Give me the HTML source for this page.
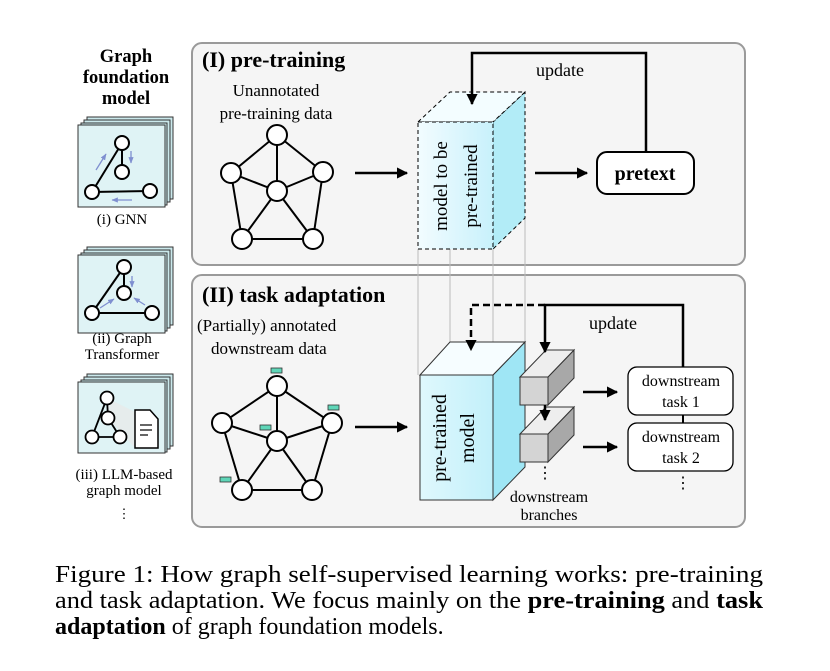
<!DOCTYPE html>
<html><head><meta charset="utf-8"><style>
html,body{margin:0;padding:0;background:#fff;}
svg{display:block;font-family:"Liberation Serif",serif;}
</style></head><body>
<svg width="830" height="671" viewBox="0 0 830 671" xmlns="http://www.w3.org/2000/svg">
<defs>
<marker id="ah" viewBox="0 0 10 10" refX="9" refY="5" markerWidth="4.5" markerHeight="4.5" orient="auto"><path d="M0,0 L10,5 L0,10 z" fill="#000"/></marker>
<marker id="sa" viewBox="0 0 10 10" refX="9" refY="5" markerWidth="5" markerHeight="5" orient="auto"><path d="M0,1 L10,5 L0,9 z" fill="#7f8fd0"/></marker>
<linearGradient id="cy" x1="0" x2="1" y1="0" y2="0"><stop offset="0" stop-color="#f2fcff"/><stop offset="1" stop-color="#c8f1fb"/></linearGradient>
<linearGradient id="cy2" x1="0" x2="1" y1="0" y2="0"><stop offset="0" stop-color="#dff8fd"/><stop offset="1" stop-color="#c2f0fa"/></linearGradient>
</defs>
<rect width="830" height="671" fill="#fff"/>

<rect x="192" y="43" width="553" height="222" rx="10" fill="#f5f5f5" stroke="#9a9a9a" stroke-width="2"/>
<rect x="192" y="275" width="553" height="252" rx="10" fill="#f5f5f5" stroke="#9a9a9a" stroke-width="2"/>

<g font-weight="bold" font-size="18.5" text-anchor="middle">
<text x="126" y="62">Graph</text><text x="126" y="83">foundation</text><text x="126" y="104">model</text>
</g>
<g stroke="#333" stroke-width="1" fill="#cbe9ec">
<rect x="87" y="117" width="86" height="82"/><rect x="84" y="120" width="86" height="82"/><rect x="81" y="123" width="86" height="82"/>
<rect x="78" y="125" width="87" height="82" fill="#dff3f5"/>
<rect x="87" y="247" width="86" height="78"/><rect x="84" y="250" width="86" height="78"/><rect x="81" y="253" width="86" height="78"/>
<rect x="78" y="255" width="87" height="78" fill="#dff3f5"/>
<rect x="87" y="374" width="86" height="72"/><rect x="84" y="377" width="86" height="72"/><rect x="81" y="380" width="86" height="72"/>
<rect x="78" y="382" width="87" height="71" fill="#dff3f5"/>
</g>
<g stroke="#000" stroke-width="2" fill="#fff">
<line x1="122" y1="143" x2="92" y2="192"/><line x1="122" y1="143" x2="122" y2="172"/><line x1="92" y1="192" x2="150" y2="191"/>
<circle cx="122" cy="143" r="7"/><circle cx="122" cy="172" r="7"/><circle cx="92" cy="192" r="7"/><circle cx="150" cy="191" r="7"/>
</g>
<g stroke="#7f8fd0" stroke-width="1.3" marker-end="url(#sa)">
<line x1="96" y1="170" x2="106" y2="154"/><line x1="131" y1="151" x2="131" y2="163"/><line x1="132" y1="200" x2="112" y2="200"/>
</g>
<text x="122" y="224" font-size="15" text-anchor="middle">(i) GNN</text>
<g stroke="#000" stroke-width="2" fill="#fff">
<line x1="124" y1="267" x2="92" y2="313"/><line x1="124" y1="267" x2="124" y2="293"/><line x1="92" y1="313" x2="152" y2="313"/>
<circle cx="124" cy="267" r="7"/><circle cx="124" cy="293" r="7"/><circle cx="92" cy="313" r="7"/><circle cx="152" cy="313" r="7"/>
</g>
<g stroke="#7f8fd0" stroke-width="1.3" marker-end="url(#sa)">
<line x1="132" y1="276" x2="132" y2="287"/><line x1="100" y1="308" x2="114" y2="299"/><line x1="145" y1="305" x2="134" y2="298"/>
</g>
<text x="122" y="343" font-size="15" text-anchor="middle">(ii) Graph</text>
<text x="122" y="359" font-size="15" text-anchor="middle">Transformer</text>
<polygon points="107,398 135,412 135,448 108,418" fill="#e8e8e8" opacity="0.7"/>
<g stroke="#000" stroke-width="1.8" fill="#fff">
<line x1="107" y1="398" x2="92" y2="437"/><line x1="107" y1="398" x2="108" y2="418"/><line x1="92" y1="437" x2="120" y2="437"/><line x1="108" y1="418" x2="120" y2="437"/>
<circle cx="107" cy="398" r="6.5"/><circle cx="108" cy="418" r="6.5"/><circle cx="92" cy="437" r="6.5"/><circle cx="120" cy="437" r="6.5"/>
<path d="M135,410 h15 l8,9 v29 h-23 z" stroke-width="1.5"/>
</g>
<g stroke="#000" stroke-width="1.2"><line x1="140" y1="425" x2="152" y2="425"/><line x1="140" y1="430" x2="152" y2="430"/><line x1="140" y1="435" x2="148" y2="435"/></g>
<text x="124" y="479" font-size="15" text-anchor="middle">(iii) LLM-based</text>
<text x="124" y="495" font-size="15" text-anchor="middle">graph model</text>
<text x="124" y="518" font-size="13" text-anchor="middle">⋮</text>

<text x="202" y="67" font-size="22" font-weight="bold">(I) pre-training</text>
<text x="276" y="96" font-size="17" text-anchor="middle">Unannotated</text>
<text x="276" y="119" font-size="17" text-anchor="middle">pre-training data</text>
<g stroke="#000" stroke-width="2" fill="#fff">
<polygon points="277,135 323,172 313,239 242,239 231,173" fill="none"/>
<line x1="277" y1="135" x2="277" y2="191"/><line x1="231" y1="173" x2="277" y2="191"/><line x1="323" y1="172" x2="277" y2="191"/><line x1="242" y1="239" x2="277" y2="191"/><line x1="313" y1="239" x2="277" y2="191"/>
<circle cx="277" cy="135" r="10"/><circle cx="231" cy="173" r="10"/><circle cx="323" cy="172" r="10"/><circle cx="277" cy="191" r="10"/><circle cx="242" cy="239" r="10"/><circle cx="313" cy="239" r="10"/>
</g>
<line x1="355" y1="173" x2="407" y2="173" stroke="#000" stroke-width="2.5" marker-end="url(#ah)"/>
<g stroke="#bbb" stroke-width="1"><line x1="418" y1="249" x2="418" y2="375"/><line x1="450" y1="249" x2="450" y2="342"/><line x1="493" y1="249" x2="493" y2="375"/><line x1="525" y1="218" x2="525" y2="342"/></g>
<polygon points="493,122 525,92 525,218 493,249" fill="#b2ecf7" stroke="#000" stroke-width="1" stroke-dasharray="4,3"/>
<polygon points="418,122 450,92 525,92 493,122" fill="#f3fdff" stroke="#000" stroke-width="1" stroke-dasharray="4,3"/>
<rect x="418" y="122" width="75" height="127" fill="url(#cy)" stroke="#000" stroke-width="1" stroke-dasharray="4,3"/>
<text transform="translate(447,186) rotate(-90)" font-size="19" text-anchor="middle">model to be</text>
<text transform="translate(477,186) rotate(-90)" font-size="19" text-anchor="middle">pre-trained</text>
<polyline points="646,152 646,53 472,53 472,104" fill="none" stroke="#000" stroke-width="2.5" marker-end="url(#ah)"/>
<text x="560" y="76" font-size="18" text-anchor="middle">update</text>
<line x1="535" y1="173" x2="587" y2="173" stroke="#000" stroke-width="2.5" marker-end="url(#ah)"/>
<rect x="597" y="152" width="97" height="42" rx="10" fill="#fff" stroke="#000" stroke-width="2"/>
<text x="645" y="180" font-size="20" font-weight="bold" text-anchor="middle">pretext</text>

<text x="202" y="302" font-size="22" font-weight="bold">(II) task adaptation</text>
<text x="197" y="331" font-size="17">(Partially) annotated</text>
<text x="211" y="354" font-size="17">downstream data</text>
<g stroke="#000" stroke-width="2" fill="#fff">
<polygon points="277,386 332,423 312,490 242,490 222,423" fill="none"/>
<line x1="277" y1="386" x2="277" y2="441"/><line x1="222" y1="423" x2="277" y2="441"/><line x1="332" y1="423" x2="277" y2="441"/><line x1="242" y1="490" x2="277" y2="441"/><line x1="312" y1="490" x2="277" y2="441"/>
<circle cx="277" cy="386" r="10"/><circle cx="222" cy="423" r="10"/><circle cx="332" cy="423" r="10"/><circle cx="277" cy="441" r="10"/><circle cx="242" cy="490" r="10"/><circle cx="312" cy="490" r="10"/>
</g>
<g fill="#5fd6b8" stroke="#333" stroke-width="0.8">
<rect x="271" y="368" width="11" height="5"/><rect x="328" y="405" width="11" height="5"/><rect x="260" y="425" width="11" height="5"/><rect x="220" y="477" width="11" height="5"/>
</g>
<line x1="355" y1="427" x2="407" y2="427" stroke="#000" stroke-width="2.5" marker-end="url(#ah)"/>
<polygon points="493,375 525,342 525,467 493,500" fill="#9fe6f5" stroke="#333" stroke-width="1"/>
<polygon points="420,375 450,342 525,342 493,375" fill="#f6fdff" stroke="#333" stroke-width="1"/>
<rect x="420" y="375" width="73" height="125" fill="url(#cy2)" stroke="#333" stroke-width="1"/>
<text transform="translate(446,438) rotate(-90)" font-size="20" text-anchor="middle">pre-trained</text>
<text transform="translate(474,438) rotate(-90)" font-size="20" text-anchor="middle">model</text>
<g stroke="#333" stroke-width="1">
<polygon points="548,377 574,350 574,378 548,405" fill="#a8a8a8"/>
<polygon points="520,377 546,350 574,350 548,377" fill="#eeeeee"/>
<rect x="520" y="377" width="28" height="28" fill="#d4d4d4"/>
<polygon points="548,434 574,407 574,435 548,462" fill="#a8a8a8"/>
<polygon points="520,434 546,407 574,407 548,434" fill="#eeeeee"/>
<rect x="520" y="434" width="28" height="28" fill="#d4d4d4"/>
</g>
<polyline points="545,305 471,305 471,350" fill="none" stroke="#000" stroke-width="2.5" stroke-dasharray="7,4" marker-end="url(#ah)"/>
<polyline points="683,367 683,305 545,305 545,352" fill="none" stroke="#000" stroke-width="2.5" marker-end="url(#ah)"/>
<line x1="545" y1="405" x2="545" y2="420" stroke="#000" stroke-width="2.5" marker-end="url(#ah)"/>
<text x="613" y="329" font-size="18" text-anchor="middle">update</text>
<line x1="583" y1="392" x2="617" y2="392" stroke="#000" stroke-width="2.5" marker-end="url(#ah)"/>
<line x1="583" y1="447" x2="617" y2="447" stroke="#000" stroke-width="2.5" marker-end="url(#ah)"/>
<line x1="683" y1="415" x2="683" y2="423" stroke="#000" stroke-width="2"/>
<rect x="628" y="367" width="105" height="48" rx="9" fill="#fff" stroke="#000" stroke-width="1.3"/>
<rect x="628" y="423" width="105" height="48" rx="9" fill="#fff" stroke="#000" stroke-width="1.3"/>
<g font-size="16" text-anchor="middle">
<text x="681" y="386">downstream</text><text x="681" y="407">task 1</text>
<text x="681" y="442">downstream</text><text x="681" y="463">task 2</text>
<text x="683" y="488">⋮</text><text x="545" y="478">⋮</text>
<text x="549" y="502">downstream</text><text x="549" y="520">branches</text>
</g>

<g font-size="24">
<text x="55" y="582" textLength="708" lengthAdjust="spacingAndGlyphs">Figure 1: How graph self-supervised learning works: pre-training</text>
<text x="55" y="608" textLength="708" lengthAdjust="spacingAndGlyphs">and task adaptation. We focus mainly on the <tspan font-weight="bold">pre-training</tspan> and <tspan font-weight="bold">task</tspan></text>
<text x="55" y="634"><tspan font-weight="bold">adaptation</tspan> of graph foundation models.</text>
</g>
</svg>
</body></html>
